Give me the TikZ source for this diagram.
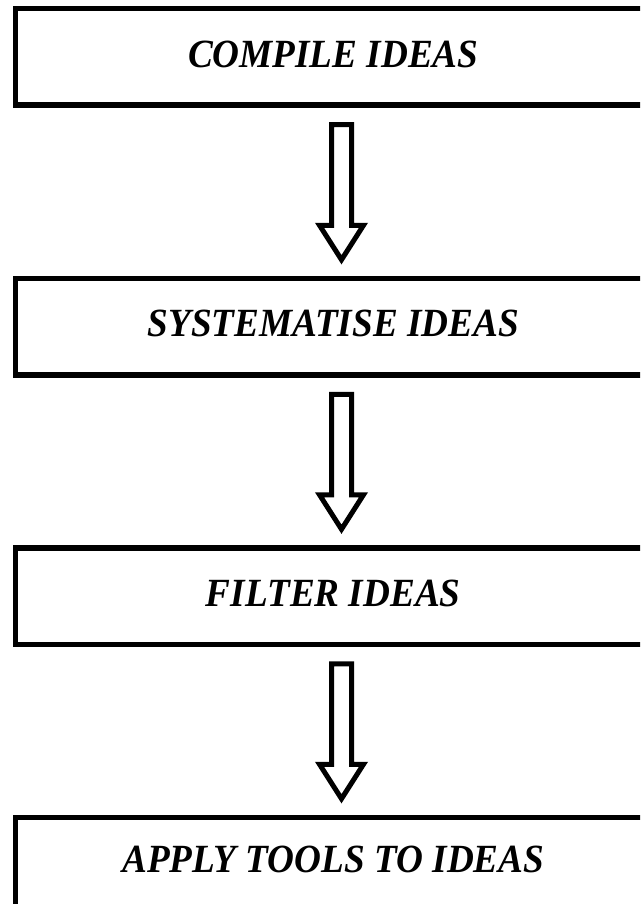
\documentclass[tikz,border=0pt]{standalone}
\usepackage{fontspec}
\setmainfont{Liberation Serif}
\newfontfamily\stagefont[FakeStretch=0.93]{Liberation Serif}
\usetikzlibrary{positioning,calc}
\tikzstyle{stagebox}=[draw,line width=5.5pt,outer sep=0pt,minimum width=635.5pt,minimum height=96.5pt,text depth=6pt,font=\stagefont\fontsize{40}{46}\selectfont\bfseries\itshape]
\tikzstyle{blockarrow}=[draw,line width=5pt,line join=miter,fill=white]
\newcommand{\drawblockarrow}[2]{
\coordinate (#1top) at ($(#1.south)+(8.25,-19.5)$);
\coordinate (#1tip) at ($(#2.north)+(8.25,18.5)$);
\draw[blockarrow] ($(#1top)+(-10,0)$) -- ($(#1top)+(10,0)$) -- ($(#1tip)+(10,34.5)$) -- ($(#1tip)+(22,34.5)$)
  -- (#1tip) -- ($(#1tip)+(-22,34.5)$) -- ($(#1tip)+(-10,34.5)$) -- cycle;
}
\begin{document}
\begin{tikzpicture}[x=1pt,y=1pt,node distance=173pt]
	\useasboundingbox (0,0) rectangle (640,-904);
	\clip (0,0) rectangle (640,-904);
	\node[stagebox] (compile) at (333.25,-57) {COMPILE IDEAS};
	\node[stagebox,below=of compile] (systematise) {SYSTEMATISE IDEAS};
	\node[stagebox,below=of systematise] (filter) {FILTER IDEAS};
	\node[stagebox,below=of filter,minimum height=89pt] (apply) {APPLY TOOLS TO IDEAS};
	\drawblockarrow{compile}{systematise}
	\drawblockarrow{systematise}{filter}
	\drawblockarrow{filter}{apply}
\end{tikzpicture}
\end{document}
